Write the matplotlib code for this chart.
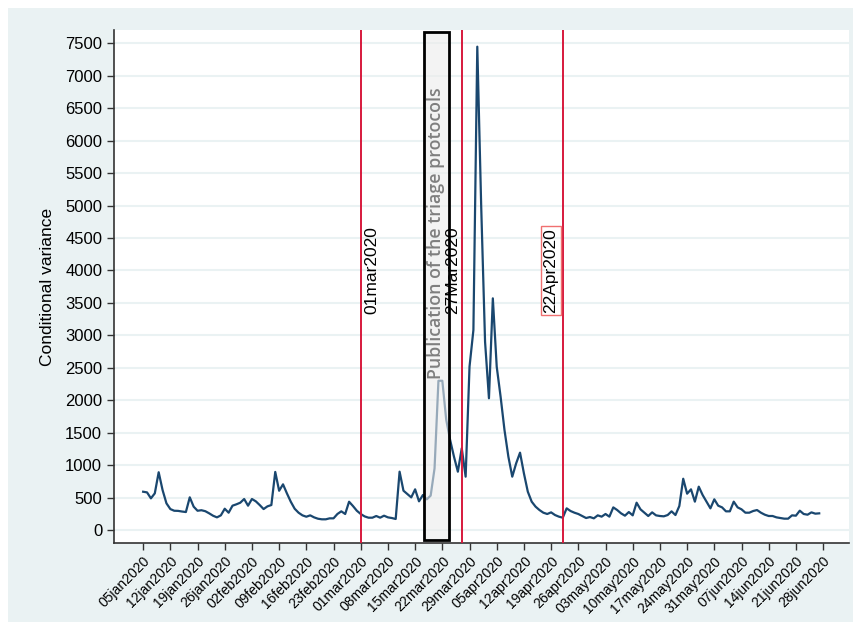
import matplotlib
matplotlib.use("Agg")
import matplotlib.pyplot as plt
import matplotlib.dates as mdates
from matplotlib.patches import Rectangle
import pandas as pd

plt.rcParams["font.family"] = ["Liberation Sans", "DejaVu Sans"]

start_date = "2020-01-05"
# daily conditional variance (05jan2020 .. 27jun2020)
cond_var = [
    590, 580, 488, 565, 890, 616, 411, 323, 297, 295, 285, 277, 504, 360,
    297, 305, 290, 257, 220, 195, 226, 328, 267, 375, 396, 421, 478, 375,
    478, 442, 385, 323, 365, 385, 895, 605, 704, 565, 436, 328, 267, 226,
    205, 226, 195, 174, 165, 165, 180, 180, 247, 288, 247, 436, 370, 297,
    247, 210, 190, 190, 216, 190, 221, 195, 185, 170, 899, 606, 555, 503,
    627, 442, 539, 473, 530, 950, 2300, 2300, 1700, 1390, 1130, 899, 1260, 822,
    2517, 3082, 7448, 5000, 2900, 2030, 3570, 2517, 2054, 1541, 1130, 822, 1027, 1192,
    873, 591, 437, 360, 308, 267, 247, 272, 231, 206, 190, 334, 293, 267,
    247, 216, 185, 200, 180, 226, 206, 247, 206, 349, 308, 257, 221, 277,
    226, 421, 319, 267, 216, 272, 226, 216, 211, 231, 288, 231, 370, 790,
    560, 627, 437, 668, 539, 437, 334, 473, 375, 349, 288, 288, 437, 349,
    319, 267, 267, 293, 308, 267, 236, 216, 216, 195, 185, 175, 175, 226,
    221, 298, 247, 236, 272, 252, 257,
]

event_dates = ["2020-03-01", "2020-03-27", "2020-04-22"]
event_labels = ["01mar2020", "27Mar2020", "22Apr2020"]
event_offsets = [8, -6.5, -8.5]  # points, text beside the line
event_boxed = [False, False, True]

triage_span = ["2020-03-17 06:00", "2020-03-23 18:00"]
triage_label = "Publication of the triage protocols"

y_ticks = list(range(0, 7501, 500))

LINE = "#1a476f"
RED = "#d7193c"
PANEL = "#eaf2f3"


def plot():
    dates = pd.date_range(start_date, periods=len(cond_var), freq="D")

    fig = plt.figure(figsize=(8.61, 6.27), dpi=100)
    fig.patch.set_facecolor("white")
    fig.patches.append(Rectangle((8 / 861, 5 / 627), 845 / 861, 614 / 627,
                                 transform=fig.transFigure, facecolor=PANEL,
                                 edgecolor="none", zorder=-10))
    ax = fig.add_axes([114 / 861, 84 / 627, 735 / 861, 513 / 627])
    ax.set_facecolor("white")

    for y in y_ticks:
        ax.axhline(y, color=PANEL, lw=1.5, zorder=0)

    ax.plot(dates, cond_var, color=LINE, lw=1.6, zorder=3)

    for d, lab, off, boxed in zip(event_dates, event_labels, event_offsets, event_boxed):
        d = pd.Timestamp(d)
        ax.axvline(d, color=RED, lw=1.4, zorder=4)
        bbox = dict(facecolor="none", edgecolor="#f07070", lw=1, pad=1.5) if boxed else None
        ax.annotate(lab, xy=(d, 4000), xytext=(off, 0), textcoords="offset points",
                    rotation=90, ha="center", va="center", fontsize=12.5,
                    color="black", bbox=bbox, zorder=6)

    t0, t1 = pd.Timestamp(triage_span[0]), pd.Timestamp(triage_span[1])
    x0, x1 = mdates.date2num(t0), mdates.date2num(t1)
    ax.add_patch(Rectangle((x0, -150), x1 - x0, 7820, facecolor="#ececec",
                           alpha=0.6, edgecolor="none", zorder=5))
    ax.add_patch(Rectangle((x0, -150), x1 - x0, 7820, facecolor="none",
                           edgecolor="black", lw=2, zorder=5))
    ax.text(x0 + (x1 - x0) / 2, 4580, triage_label, rotation=90,
            ha="center", va="center", fontsize=12.8, color="#7f7f7f",
            fontweight="semibold", family=["Open Sans", "DejaVu Sans"], zorder=6)

    ax.set_xlim(pd.Timestamp("2019-12-28 12:00"), pd.Timestamp("2020-07-04 16:00"))
    ax.set_ylim(-200, 7705)
    ax.set_yticks(y_ticks)
    ax.set_yticklabels([str(v) for v in y_ticks], fontsize=12)
    ax.set_ylabel("Conditional variance", fontsize=12.5, labelpad=7)

    wk = pd.date_range(start_date, "2020-06-28", freq="7D")
    ax.set_xticks(wk)
    ax.set_xticklabels([d.strftime("%d%b%Y").lower() for d in wk], rotation=45,
                       ha="right", rotation_mode="anchor", fontsize=10)

    for s in ["top", "right"]:
        ax.spines[s].set_visible(False)
    for s in ["left", "bottom"]:
        ax.spines[s].set_color("#333333")
        ax.spines[s].set_linewidth(1.2)
    ax.tick_params(direction="out", length=5, width=1, color="#333333")
    ax.tick_params(axis="x", pad=3)

    fig.savefig("out.png", dpi=100)


def main():
    plot()


if __name__ == "__main__":
    main()
